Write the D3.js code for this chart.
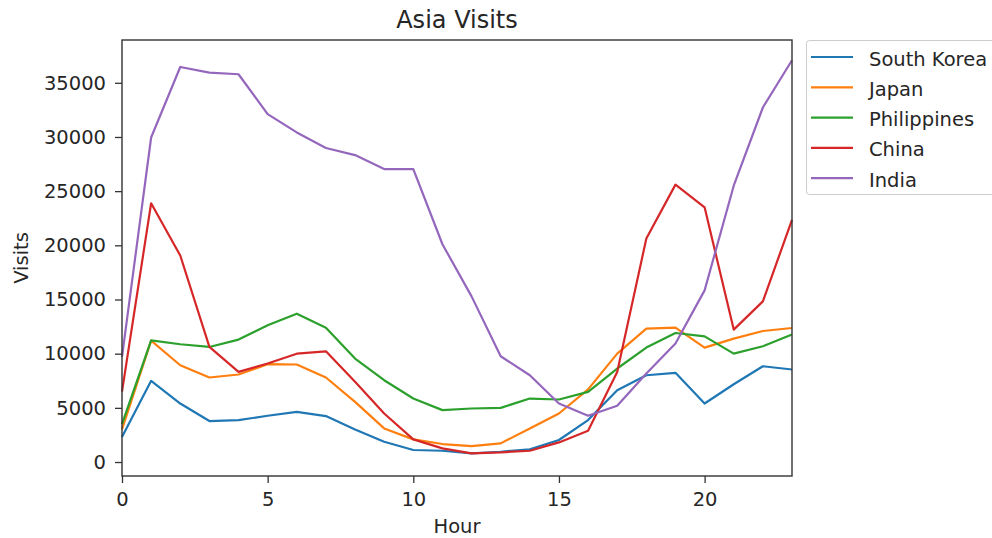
<!DOCTYPE html>
<html><head><meta charset="utf-8">
<script src="https://cdn.jsdelivr.net/npm/d3@7"></script>
<style>body{margin:0;background:#fff;} text{font-family:"DejaVu Sans",sans-serif;fill:#262626;}</style>
</head><body><svg id="c" width="992" height="538"></svg>
<script>
const hours = d3.range(0, 24);
const countries = ["South Korea", "Japan", "Philippines", "China", "India"];
const colors = ["#1f77b4", "#ff7f0e", "#2ca02c", "#d62728", "#9467bd"];
const southKorea = [2300, 7490, 5400, 3780, 3870, 4270, 4630, 4240, 3010, 1870, 1110, 1040, 800, 950, 1170, 2030, 3870, 6630, 8010, 8230, 5400, 7180, 8840, 8540];
const japan = [3000, 11200, 8930, 7800, 8080, 9030, 9000, 7800, 5550, 3100, 2090, 1660, 1470, 1720, 3100, 4480, 6700, 10000, 12310, 12400, 10560, 11390, 12090, 12370];
const philippines = [3500, 11230, 10870, 10620, 11300, 12620, 13690, 12400, 9550, 7550, 5860, 4790, 4940, 5000, 5860, 5770, 6480, 8630, 10560, 11910, 11600, 10000, 10680, 11760];
const china = [6500, 23880, 19060, 10620, 8320, 9090, 10000, 10220, 7400, 4480, 2090, 1260, 800, 890, 1040, 1810, 2880, 8300, 20630, 25600, 23510, 12220, 14830, 22350];
const india = [9700, 29950, 36460, 35940, 35790, 32110, 30420, 28980, 28330, 27040, 27040, 20100, 15290, 9760, 8010, 5400, 4270, 5190, 8170, 10930, 15840, 25500, 32720, 37080];
const yTicks = [0, 5000, 10000, 15000, 20000, 25000, 30000, 35000];
const xTicks = [0, 5, 10, 15, 20];
const series = [southKorea, japan, philippines, china, india];

const svg = d3.select("#c");
const L = 122, R = 792, T = 40, B = 476;
const x = d3.scaleLinear().domain([0, 23]).range([L, R]);
const y = d3.scaleLinear().domain([-1290, 38950]).range([B, T]);

const line = d3.line().x((d, i) => x(hours[i])).y(d => y(d));
const g = svg.append("g");
series.forEach((s, k) => {
  g.append("path").datum(s).attr("d", line).attr("fill", "none")
    .attr("stroke", colors[k]).attr("stroke-width", 2.2).attr("stroke-linejoin", "round");
});

const xa = svg.append("g").attr("transform", `translate(0,${B})`)
  .call(d3.axisBottom(x).tickValues(xTicks).tickSize(7).tickPadding(9).tickFormat(d3.format("d")));
const ya = svg.append("g").attr("transform", `translate(${L},0)`)
  .call(d3.axisLeft(y).tickValues(yTicks).tickSize(7).tickPadding(9).tickFormat(d3.format("d")));
[xa, ya].forEach(a => {
  a.select(".domain").remove();
  a.selectAll("line").attr("stroke", "#333").attr("stroke-width", 1.3);
  a.selectAll("text").style("font-size", "19.5px").style("font-family", "DejaVu Sans").attr("fill", "#262626");
});
svg.append("rect").attr("x", L).attr("y", T).attr("width", R - L).attr("height", B - T)
  .attr("fill", "none").attr("stroke", "#333").attr("stroke-width", 1.4);

svg.append("text").attr("x", (L + R) / 2).attr("y", 28).attr("text-anchor", "middle")
  .style("font-size", "24px").text("Asia Visits");
svg.append("text").attr("x", (L + R) / 2).attr("y", 533).attr("text-anchor", "middle")
  .style("font-size", "19.5px").text("Hour");
svg.append("text").attr("transform", `translate(28,${(T + B) / 2}) rotate(-90)`).attr("text-anchor", "middle")
  .style("font-size", "19.5px").text("Visits");

const lg = svg.append("g");
lg.append("rect").attr("x", 806.5).attr("y", 40.5).attr("width", 200).attr("height", 154).attr("rx", 3)
  .attr("fill", "#fff").attr("stroke", "#ccc").attr("stroke-width", 1);
countries.forEach((c, k) => {
  const yy = 57 + k * 30.3;
  lg.append("line").attr("x1", 811).attr("x2", 853).attr("y1", yy).attr("y2", yy)
    .attr("stroke", colors[k]).attr("stroke-width", 2.2);
  lg.append("text").attr("x", 869).attr("y", yy + 8.5).style("font-size", "19.5px").text(c);
});
</script></body></html>
